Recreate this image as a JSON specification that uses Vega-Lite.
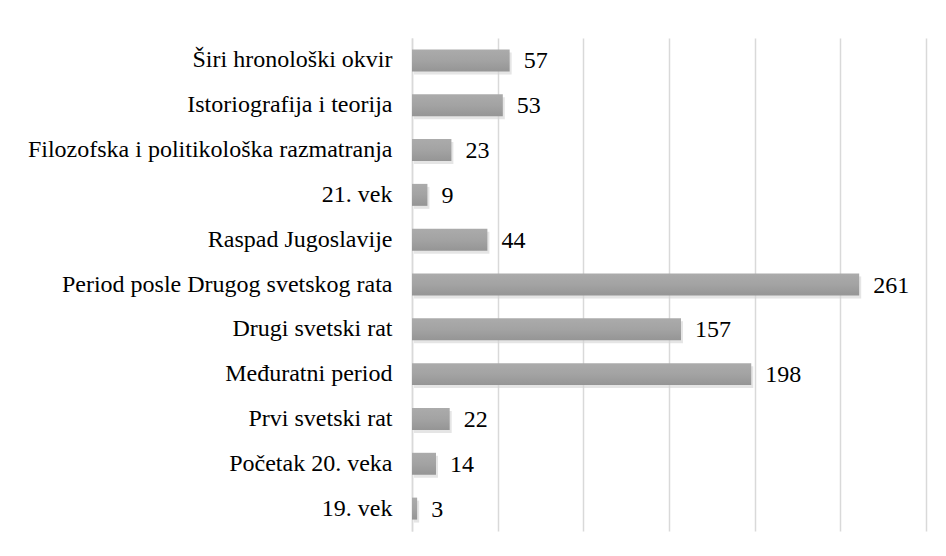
{
  "$schema": "https://vega.github.io/schema/vega-lite/v6.json",
  "autosize": {"type": "none"},
  "padding": {"left": 412, "top": 38, "right": 20, "bottom": 25},
  "width": 514,
  "height": 493,
  "background": "white",
  "config": {
    "view": {"stroke": null},
    "font": "Liberation Serif"
  },
  "data": {
    "values": [
      {"kategorija": "Širi hronološki okvir", "broj": 57},
      {"kategorija": "Istoriografija i teorija", "broj": 53},
      {"kategorija": "Filozofska i politikološka razmatranja", "broj": 23},
      {"kategorija": "21. vek", "broj": 9},
      {"kategorija": "Raspad Jugoslavije", "broj": 44},
      {"kategorija": "Period posle Drugog svetskog rata", "broj": 261},
      {"kategorija": "Drugi svetski rat", "broj": 157},
      {"kategorija": "Međuratni period", "broj": 198},
      {"kategorija": "Prvi svetski rat", "broj": 22},
      {"kategorija": "Početak 20. veka", "broj": 14},
      {"kategorija": "19. vek", "broj": 3}
    ]
  },
  "encoding": {
    "y": {
      "field": "kategorija",
      "type": "nominal",
      "sort": null,
      "scale": {"paddingInner": 0.51, "paddingOuter": 0.255},
      "axis": {
        "title": null,
        "ticks": false,
        "labelPadding": 20,
        "labelFont": "Liberation Serif",
        "labelFontSize": 24,
        "labelColor": "#000000",
        "labelLimit": 0,
        "domainColor": "#d9d9d9",
        "domainWidth": 1.5,
        "grid": false
      }
    },
    "x": {
      "field": "broj",
      "type": "quantitative",
      "scale": {"domain": [0, 300], "nice": false},
      "axis": {
        "title": null,
        "values": [0, 50, 100, 150, 200, 250, 300],
        "labels": false,
        "ticks": false,
        "domain": false,
        "grid": true,
        "gridColor": "#d9d9d9",
        "gridWidth": 1.5
      }
    }
  },
  "layer": [
    {
      "mark": {"type": "bar", "color": "#d4d4d4", "opacity": 0.6, "yOffset": 3, "xOffset": 2},
      "encoding": {}
    },
    {
      "mark": {
        "type": "bar",
        "color": {
          "gradient": "linear",
          "x1": 0, "y1": 0, "x2": 0, "y2": 1,
          "stops": [
            {"offset": 0, "color": "#ababab"},
            {"offset": 0.5, "color": "#a3a3a3"},
            {"offset": 1, "color": "#959595"}
          ]
        }
      },
      "encoding": {}
    },
    {
      "mark": {"type": "text", "align": "left", "baseline": "middle", "dx": 14, "dy": 1, "font": "Liberation Serif", "fontSize": 24, "color": "#000000"},
      "encoding": {"text": {"field": "broj", "type": "quantitative"}}
    }
  ]
}
